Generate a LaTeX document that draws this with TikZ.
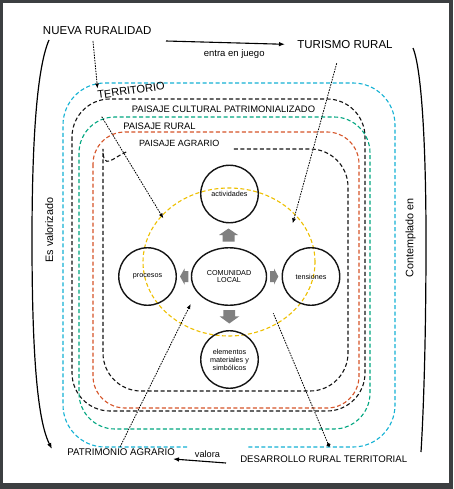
\documentclass[tikz,border=0pt]{standalone}
\usepackage{fontspec}
\setmainfont{Liberation Sans}
\usetikzlibrary{shapes.geometric,arrows.meta}
\definecolor{frameg}{RGB}{60,63,65}
\definecolor{cy}{RGB}{20,178,212}
\definecolor{gr}{RGB}{0,166,128}
\definecolor{orn}{RGB}{214,84,40}
\definecolor{yel}{RGB}{238,192,0}
\definecolor{blk}{RGB}{20,20,20}
\definecolor{garr}{RGB}{128,128,128}
\begin{document}
\begin{tikzpicture}[x=1pt,y=-1pt,
  lbl/.style={inner sep=0pt, font=\fontsize{#1}{#1}\selectfont},
  zone/.style={dash pattern=on 4pt off 2.5pt, line width=1.1pt, rounded corners=#1},
  dotline/.style={dash pattern=on 1.6pt off 1.1pt, line width=0.8pt},
  dotarrow/.style={dotline, -{Latex[length=5pt,width=4pt]}},
  ring/.style={circle, draw=blk, line width=1.4pt, minimum size=57.5pt, inner sep=0pt, align=center, font=\fontsize{7.2}{8}\selectfont},
  solidarr/.style={line width=1.1pt, -{Latex[length=6pt,width=4.5pt]}},
  bracket/.style={line width=1.2pt}
]
\fill[frameg] (0,0) rectangle (453,489);
\fill[white] (3,3) rectangle (449,483);
\useasboundingbox (0,0) rectangle (453,489);

% nested zones
\draw[zone=42pt, draw=cy] (187,447) -- (63,447) -- (63,83) -- (395,83) -- (395,447) -- (248,447);
\draw[zone=38pt, draw=blk] (72,99) rectangle (365,411);
\draw[zone=36pt, draw=gr] (79,117) rectangle (370,429);
\draw[zone=32pt, draw=orn] (93,132) rectangle (359,408);
\draw[zone=38pt, draw=blk] (126.2,152) .. controls (112.56,157.75) and (103,171.25) .. (103,187) -- (103,391) -- (348,391) -- (348,149) -- (232,149);

% yellow ellipse
\node[ellipse, draw=yel, dash pattern=on 4pt off 2.5pt, line width=1.1pt, minimum width=172pt, minimum height=148pt, inner sep=0pt] (yring) at (229,262) {};

% circles
\node[ring] (act) at (229.5,194) {actividades};
\node[ring] (proc) at (147.5,276.5) {procesos};
\node[ring] (tens) at (311,276.5) {tensiones};
\node[ring] (elem) at (229.5,359.5) {elementos\\materiales y\\simbólicos};
\node[ellipse, draw=blk, line width=1.4pt, minimum width=75pt, minimum height=57.5pt, inner sep=0pt, align=center, font=\fontsize{7.2}{7.8}\selectfont] (com) at (229,276.5) {COMUNIDAD\\LOCAL};

% block arrows
\fill[garr] (222.7,241.7) -- (222.7,235) -- (219,235) -- (228.5,228.5) -- (238,235) -- (234.5,235) -- (234.5,241.7) -- cycle;
\fill[garr] (223.3,310) -- (235,310) -- (235,316.3) -- (239.3,316.3) -- (229.3,323.5) -- (219.5,316.3) -- (223.3,316.3) -- cycle;
\fill[garr] (188.3,271) -- (184.5,271) -- (184.5,268.5) -- (180,276.5) -- (184.5,284.5) -- (184.5,282) -- (188.3,282) -- cycle;
\fill[garr] (270,271) -- (274,271) -- (274,268.5) -- (278.3,276.5) -- (274,284.5) -- (274,282) -- (270,282) -- cycle;

% labels
\node[lbl=11.5] (nueva) at (97.2,30.8) {NUEVA RURALIDAD};
\node[lbl=11.5] (turismo) at (345,45) {TURISMO RURAL};
\node[lbl=9.5] (juego) at (234.2,54) {entra en juego};
\node[lbl=11, rotate=8] (terr) at (131,90.5) {TERRITORIO};
\node[lbl=9.4] (pcp) at (223.5,108.8) {PAISAJE CULTURAL PATRIMONIALIZADO};
\node[lbl=9.4] (prur) at (159.5,125.8) {PAISAJE RURAL};
\node[lbl=9.0] (pagr) at (179.2,143.7) {PAISAJE AGRARIO};
\node[lbl=10.8, rotate=90] (esval) at (49.2,230) {Es valorizado};
\node[lbl=10.8, rotate=90] (contem) at (410.5,238) {Contemplado en};
\node[lbl=9.7] (patri) at (121.2,452.5) {PATRIMONIO AGRARIO};
\node[lbl=9.2] (valora) at (207.5,454) {valora};
\node[lbl=9.6] (desa) at (323.7,459.2) {DESARROLLO RURAL TERRITORIAL};

% solid arrows
\coordinate (jA) at (166,41); \coordinate (jB) at (285,44.3);
\draw[solidarr] (jA) -- (jB);
\coordinate (vA) at (226,463); \coordinate (vB) at (173,459);
\draw[solidarr] (vA) -- (vB);

% brackets
\coordinate (lbT) at (49,40); \coordinate (lbB) at (52,449);
\draw[bracket, -{Latex[length=6pt,width=4.5pt]}] (lbT) .. controls (36,70) and (32,150) .. (32,240) .. controls (32,350) and (37,420) .. (lbB);
\coordinate (rbT) at (413,48); \coordinate (rbB) at (421,452);
\draw[bracket] (rbT) .. controls (422,70) and (426,150) .. (426,240) .. controls (426,350) and (423,420) .. (rbB);

% dotted arrows
\coordinate (d1a) at (93,41); \coordinate (d1b) at (97.5,88.5);
\coordinate (d2a) at (101.7,116.7); \coordinate (d2b) at (163.3,218.3);
\coordinate (d3a) at (336.7,63.3); \coordinate (d3b) at (292.7,223.3);
\coordinate (d4a) at (120,447); \coordinate (d4b) at (190.7,304);
\coordinate (d5a) at (329.3,446.7); \coordinate (d5b) at (273.3,313.3);
\draw[dotarrow] (d1a) -- (d1b);
\draw[dotarrow] (d2a) -- (d2b);
\draw[dotarrow] (d3a) -- (d3b);
\draw[dotarrow] (d4a) -- (d4b);
\draw[dotline, {Circle[length=4pt]}-] (d5a) -- (d5b);
\end{tikzpicture}
\end{document}
